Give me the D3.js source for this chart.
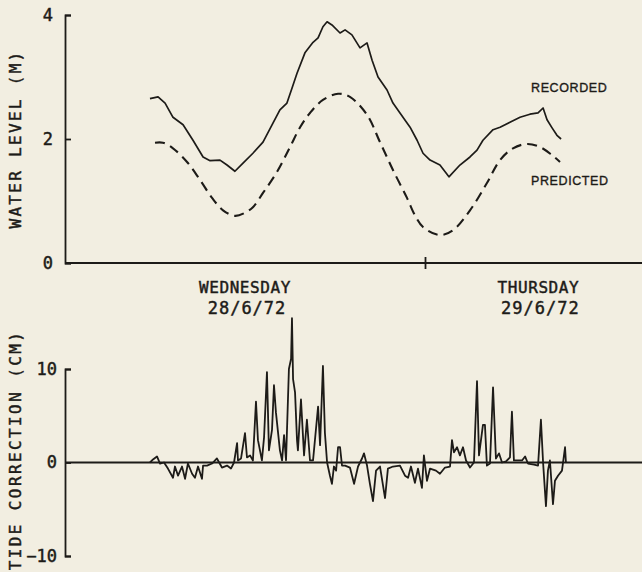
<!DOCTYPE html>
<html>
  <head>
    <meta charset="utf-8">
    <script src="https://d3js.org/d3.v7.min.js"></script>
    <style type="text/css">
      body { margin: 0; background-color: #f2eee1; }
      text { fill: #1d1b18; }
      .plotter { font-family: "DejaVu Sans Mono", monospace; stroke: #1d1b18; stroke-width: 0.45px; }
      .label { font-family: "Liberation Sans", Arial, sans-serif; stroke: #1d1b18; stroke-width: 0.35px; }
    </style>
  </head>
<body>
  <script type="text/javascript">
    // Time is in hours from midnight Tuesday/Wednesday
    var recHours = [8.72, 9.17, 9.56, 10.0, 10.56, 11.11, 11.67, 12.06, 12.61, 13.0, 13.44, 13.89, 14.44, 15.0,
      15.56, 15.94, 16.33, 16.61, 16.89, 17.33, 17.78, 18.06, 18.33, 18.56, 18.83, 19.28, 19.56, 19.94, 20.39,
      20.78, 21.06, 21.39, 21.89, 22.22, 22.61, 23.17, 23.56, 23.89, 24.28, 24.83, 25.33, 25.94, 26.5, 26.89,
      27.22, 27.78, 28.17, 28.72, 29.28, 29.83, 30.28, 30.56, 30.78, 31.06, 31.33, 31.56];
    var recorded = [2.65, 2.68, 2.58, 2.35, 2.23, 1.98, 1.71, 1.65, 1.66, 1.58, 1.48, 1.61, 1.77, 1.95,
      2.26, 2.47, 2.58, 2.82, 3.06, 3.39, 3.56, 3.63, 3.81, 3.89, 3.84, 3.71, 3.76, 3.68, 3.47,
      3.55, 3.27, 3.0, 2.79, 2.58, 2.42, 2.19, 1.98, 1.77, 1.66, 1.58, 1.39, 1.58, 1.71, 1.82,
      1.98, 2.15, 2.19, 2.27, 2.35, 2.4, 2.42, 2.5, 2.31, 2.18, 2.06, 2.0];

    var predHours = [9.0, 9.44, 10.0, 10.78, 11.5, 12.17, 12.78, 13.44, 14.0, 14.44, 15.0, 15.78, 16.5, 17.06,
      17.61, 18.33, 19.17, 19.83, 20.78, 21.5, 22.22, 23.0, 23.44, 23.89, 24.83, 25.56, 26.5, 27.44,
      28.17, 28.89, 29.67, 30.39, 31.06, 31.5];
    var predicted = [1.94, 1.94, 1.85, 1.63, 1.34, 1.05, 0.85, 0.76, 0.81, 0.9, 1.13, 1.47, 1.87, 2.19,
      2.42, 2.63, 2.73, 2.68, 2.39, 1.95, 1.5, 1.05, 0.77, 0.58, 0.45, 0.53, 0.85, 1.29,
      1.66, 1.85, 1.92, 1.87, 1.74, 1.63];

    var corrHours = [8.72, 8.89, 9.11, 9.28, 9.5, 9.72, 10.0, 10.11, 10.28, 10.5, 10.67, 10.83, 11.06, 11.22,
      11.39, 11.61, 11.67, 11.89, 12.17, 12.44, 12.72, 13.0, 13.22, 13.39, 13.56, 13.61, 13.78, 14.0,
      14.11, 14.28, 14.44, 14.61, 14.72, 14.94, 15.06, 15.22, 15.33, 15.5, 15.61, 15.72, 15.94, 16.06,
      16.17, 16.28, 16.44, 16.56, 16.61, 16.67, 16.78, 16.89, 16.94, 17.11, 17.28, 17.44, 17.61, 17.78,
      18.06, 18.17, 18.33, 18.44, 18.56, 18.72, 18.83, 18.94, 19.06, 19.17, 19.28, 19.39, 19.56, 19.83,
      20.06, 20.28, 20.5, 20.61, 20.78, 20.94, 21.11, 21.28, 21.5, 21.78, 21.94, 22.22, 22.61, 22.89,
      23.06, 23.22, 23.44, 23.61, 23.83, 23.94, 24.11, 24.28, 24.61, 24.83, 25.11, 25.39, 25.5, 25.61,
      25.78, 25.94, 26.11, 26.28, 26.5, 26.72, 26.89, 27.0, 27.22, 27.33, 27.44, 27.61, 27.78, 27.94,
      28.11, 28.28, 28.5, 28.72, 28.83, 28.94, 29.17, 29.39, 29.56, 29.72, 30.06, 30.28, 30.44, 30.56,
      30.72, 30.83, 30.94, 31.11, 31.22, 31.39, 31.61, 31.78, 31.83];
    var correction = [0, 0.33, 0.65, -0.11, 0, -0.65, -1.63, -0.43, -1.41, -0.43, -1.74, -0.11, -1.2, -1.63,
      -0.43, -1.74, -0.33, -0.33, -0.11, 0.43, -0.54, -0.33, -0.65, 0, 2.07, 0.22, 0.43, 3.15,
      0.54, 0.76, 0.22, 6.52, 2.39, 0.22, 2.72, 9.67, 1.3, 3.48, 8.26, 5.33, 1.3, 0.22,
      2.93, 0.22, 10.0, 11.09, 15.43, 8.91, 7.5, 2.39, 1.3, 6.74, 0.76, 4.57, 0.22, 0.22,
      5.98, 1.85, 10.33, 3.15, 0, -1.41, -2.28, -0.43, -0.87, 1.63, 1.63, -0.33, -0.33, -0.54,
      -2.28, -0.43, 0.43, 0.98, -0.33, -2.28, -4.13, -0.87, -0.43, -3.8, -0.65, -0.43, -0.33, -1.41,
      -1.63, -0.43, -2.17, -0.65, -2.72, 0.76, -1.96, -0.65, -0.87, -1.2, -0.54, -0.43, 2.39, 1.09,
      1.63, 0.76, 1.63, 0.22, -0.54, 0, 8.7, 0.76, 4.02, 4.02, -0.33, -0.11, 8.04, 0.43,
      0.98, 0, 0.11, 0.54, 5.43, 0.22, 0.22, 0.22, 0.65, -0.11, -0.22, -0.33, 4.57, 0,
      -4.67, -0.87, 0.22, -4.46, -1.96, -1.41, -0.87, 1.63, 0];

    var levelTicks = [0, 2, 4];
    var corrTicks = [-10, 0, 10];
    var dayNames = ["WEDNESDAY", "THURSDAY"];
    var dayDates = ["28/6/72", "29/6/72"];
    var dayHours = [14.0, 30.3];
    var midnight = [24];

    var width = 642, height = 572;
    var ink = "#1d1b18";

    var svg = d3.select("body").append("svg")
      .attr("width", width)
      .attr("height", height);

    svg.append("rect").attr("width", width).attr("height", height).attr("fill", "#f2eee1");

    // Shared time scale, separate level scales for the two panels
    var x = d3.scaleLinear().domain([4, 36]).range([65, 641]);
    var yLevel = d3.scaleLinear().domain([0, 4]).range([263, 15]);
    var yCorr = d3.scaleLinear().domain([-10, 10]).range([556, 369]);

    function styleAxis(g) {
      g.selectAll("path, line").attr("stroke", ink).attr("stroke-width", 1.8);
      g.selectAll("text").attr("class", "plotter").style("font-size", "17px").attr("fill", ink);
    }

    // Top panel axes
    svg.append("g")
      .attr("transform", "translate(65,0)")
      .call(d3.axisLeft(yLevel).tickValues(levelTicks).tickFormat(d3.format("d"))
        .tickSizeInner(-6).tickSizeOuter(-6).tickPadding(12))
      .call(styleAxis);

    var xAxis = svg.append("g")
      .attr("transform", "translate(0," + yLevel(0) + ")")
      .call(d3.axisBottom(x).tickValues(midnight).tickSize(6).tickSizeOuter(0).tickFormat(""))
      .call(styleAxis);
    xAxis.select(".domain").attr("d", "M65,0H642");
    xAxis.selectAll(".tick line").attr("y1", -6);

    // Bottom panel axes
    svg.append("g")
      .attr("transform", "translate(65,0)")
      .call(d3.axisLeft(yCorr).tickValues(corrTicks).tickFormat(d3.format("d"))
        .tickSizeInner(-6).tickSizeOuter(-6).tickPadding(8))
      .call(styleAxis);

    svg.append("line")
      .attr("x1", 65).attr("x2", 642)
      .attr("y1", yCorr(0)).attr("y2", yCorr(0))
      .attr("stroke", ink).attr("stroke-width", 1.8);

    // Curves
    var recLine = d3.line()
      .x(function(d, i) { return x(recHours[i]); })
      .y(function(d) { return yLevel(d); });
    svg.append("path").datum(recorded)
      .attr("d", recLine)
      .attr("fill", "none").attr("stroke", ink).attr("stroke-width", 1.7)
      .attr("stroke-linejoin", "round");

    var predLine = d3.line()
      .curve(d3.curveCatmullRom)
      .x(function(d, i) { return x(predHours[i]); })
      .y(function(d) { return yLevel(d); });
    svg.append("path").datum(predicted)
      .attr("d", predLine)
      .attr("fill", "none").attr("stroke", ink).attr("stroke-width", 2.1)
      .attr("stroke-dasharray", "10,6");

    var corrLine = d3.line()
      .x(function(d, i) { return x(corrHours[i]); })
      .y(function(d) { return yCorr(d); });
    svg.append("path").datum(correction)
      .attr("d", corrLine)
      .attr("fill", "none").attr("stroke", ink).attr("stroke-width", 1.8)
      .attr("stroke-linejoin", "round");

    // Series labels
    svg.append("text").attr("class", "label")
      .attr("x", 531).attr("y", 92)
      .style("font-size", "12.5px").style("letter-spacing", "0.6px")
      .text("RECORDED");
    svg.append("text").attr("class", "label")
      .attr("x", 531).attr("y", 185)
      .style("font-size", "12.5px").style("letter-spacing", "0.6px")
      .text("PREDICTED");

    // Day labels under the time axis
    dayNames.forEach(function(name, i) {
      svg.append("text").attr("class", "plotter")
        .attr("x", x(dayHours[i])).attr("y", 293)
        .attr("text-anchor", "middle")
        .style("font-size", "16px").style("letter-spacing", "0.6px")
        .text(name);
      svg.append("text").attr("class", "plotter")
        .attr("x", x(dayHours[i]) + 2).attr("y", 314)
        .attr("text-anchor", "middle")
        .style("font-size", "17px").style("letter-spacing", "1px")
        .text(dayDates[i]);
    });

    // Rotated axis titles
    svg.append("text").attr("class", "plotter")
      .attr("transform", "translate(21,139) rotate(-90)")
      .attr("text-anchor", "middle")
      .style("font-size", "16px").style("letter-spacing", "2.3px")
      .text("WATER LEVEL (M)");
    svg.append("text").attr("class", "plotter")
      .attr("transform", "translate(21,450) rotate(-90)")
      .attr("text-anchor", "middle")
      .style("font-size", "16px").style("letter-spacing", "2.4px")
      .text("TIDE CORRECTION (CM)");
  </script>
</body>
</html>
